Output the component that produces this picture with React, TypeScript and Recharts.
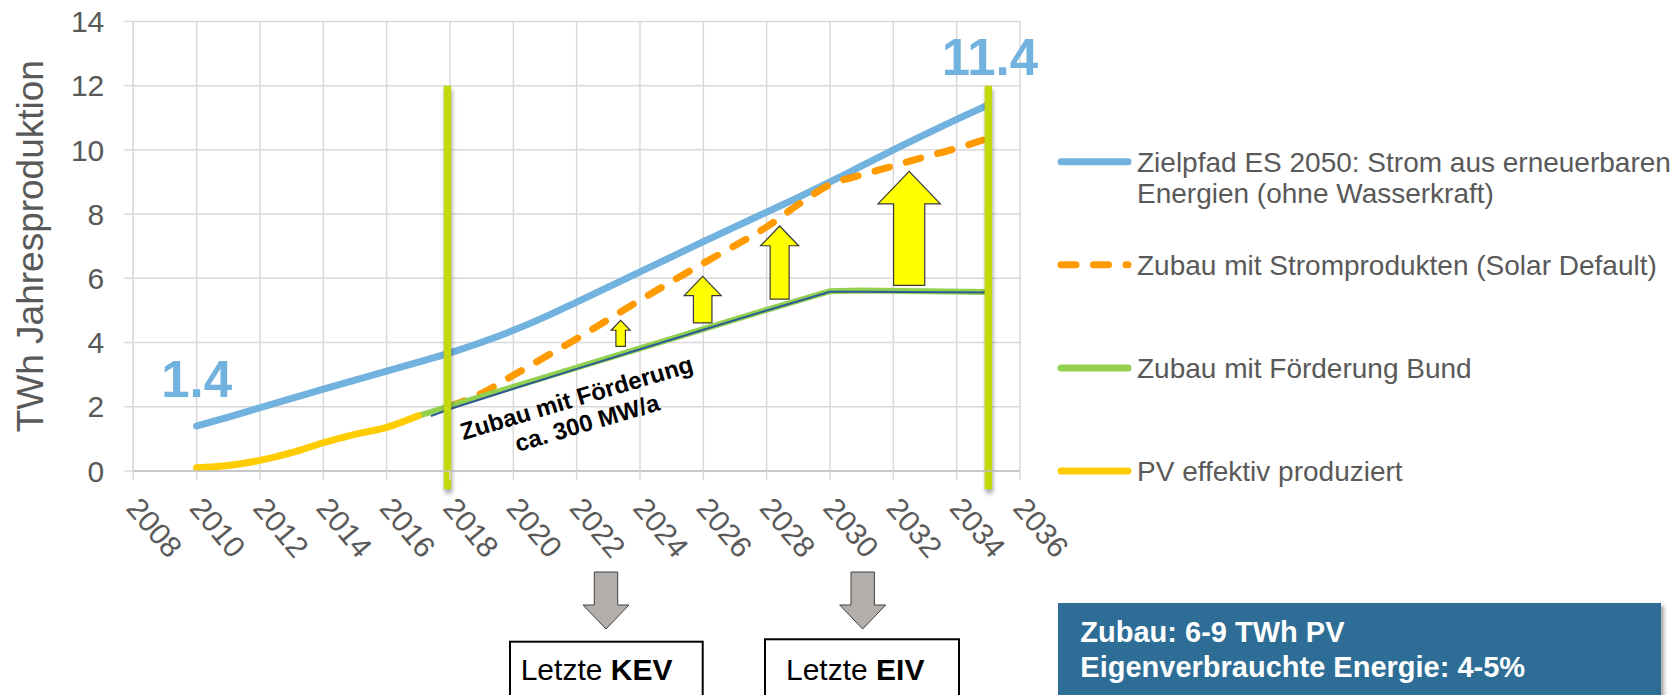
import React from 'react';
import {
  LineChart,
  Line,
  XAxis,
  YAxis,
  CartesianGrid,
  Legend,
  ReferenceLine,
  ReferenceArea,
  ReferenceDot
} from 'recharts';

// axis ticks
const YEAR_TICKS = [2008, 2010, 2012, 2014, 2016, 2018, 2020, 2022, 2024, 2026, 2028, 2030, 2032, 2034, 2036];
const VALUE_TICKS = [0, 2, 4, 6, 8, 10, 12, 14];

// Zielpfad ES 2050
const ZIEL_YEARS = [2010, 2011, 2012, 2013, 2014, 2015, 2016, 2017, 2018, 2019, 2020, 2021, 2022, 2023, 2024, 2025, 2026, 2027, 2028, 2029, 2030, 2031, 2032, 2033, 2034, 2035];
const ZIEL = [1.4, 1.68, 1.97, 2.26, 2.55, 2.83, 3.11, 3.39, 3.68, 4.01, 4.38, 4.8, 5.26, 5.73, 6.2, 6.67, 7.14, 7.6, 8.06, 8.52, 9.0, 9.5, 10.0, 10.48, 10.95, 11.4];

// Zubau mit Stromprodukten (Solar Default)
const STROM_YEARS = [2018, 2019, 2020, 2021, 2022, 2023, 2024, 2025, 2026, 2027, 2028, 2029, 2030, 2031, 2032, 2033, 2034, 2035];
const STROM = [2.02, 2.42, 2.98, 3.55, 4.12, 4.72, 5.32, 5.9, 6.47, 7.02, 7.6, 8.3, 8.92, 9.22, 9.5, 9.78, 10.05, 10.36];

// Zubau mit Förderung Bund
const BUND_YEARS = [2017, 2018, 2020, 2022, 2024, 2026, 2028, 2030, 2031, 2035];
const BUND = [1.72, 2.02, 2.62, 3.22, 3.82, 4.42, 5.02, 5.6, 5.62, 5.57];

// thin trace drawn on top of the Bund line
const TRACE_YEARS = [2017.4, 2018, 2020, 2022, 2024, 2026, 2028, 2030, 2031, 2035];
const TRACE = [1.71, 1.93, 2.56, 3.18, 3.79, 4.4, 5.0, 5.58, 5.58, 5.56];

// PV effektiv produziert
const PV_YEARS = [2010, 2011, 2012, 2013, 2014, 2015, 2016, 2017];
const PV = [0.1, 0.17, 0.33, 0.57, 0.88, 1.14, 1.36, 1.72];

// vertical milestone bars
const MILESTONE_YEARS = [2017.92, 2035];
const MILESTONE_FROM = -0.57;
const MILESTONE_TO = 12;

// yellow gap arrows (year, base, tip, head width in years)
const GAP_YEARS = [2023.39, 2025.98, 2028.41, 2032.5];
const GAP_FROM = [3.88, 4.61, 5.35, 5.78];
const GAP_TO = [4.69, 6.06, 7.63, 9.33];
const GAP_SPAN = [0.6, 1.17, 1.2, 1.97];

// big value labels
const VALUE_LABELS = ['1.4', '11.4'];
const VALUE_LABEL_YEARS = [2010, 2035.05];
const VALUE_LABEL_AT = [2.31, 12.34];

const FONT = '"Liberation Sans", Arial, sans-serif';
const GREY = '#595959';
const BLUE = '#72B2DE';
const ORANGE = '#FF9A00';
const GREEN = '#92D050';
const YELLOW = '#FFCC00';

const NAMES = {
  ziel: 'Zielpfad ES 2050: Strom aus erneuerbaren Energien (ohne Wasserkraft)',
  strom: 'Zubau mit Stromprodukten (Solar Default)',
  bund: 'Zubau mit Förderung Bund',
  pv: 'PV effektiv produziert'
};
const LEGEND_ORDER = [NAMES.ziel, NAMES.strom, NAMES.bund, NAMES.pv];

const toPoints = (years: number[], values: number[]) =>
  years.map((year, i) => ({ year, value: values[i] }));

const YearTick = ({ x, y, payload }: any) => (
  <g transform={`translate(${x + 8},${y}) rotate(50)`}>
    <text x={0} y={0} dy="0.71em" textAnchor="start" fontSize={30} fill={GREY} fontFamily={FONT}>
      {payload.value}
    </text>
  </g>
);

const UpArrow = (p: any) => {
  const { x, y, width, height } = p;
  const cx = x + width / 2;
  const headH = width * 0.52;
  const half = width * 0.25;
  const pts = [
    [cx - half, y + height],
    [cx - half, y + headH],
    [x, y + headH],
    [cx, y],
    [x + width, y + headH],
    [cx + half, y + headH],
    [cx + half, y + height]
  ].map(q => q.join(',')).join(' ');
  return <polygon points={pts} fill="#FFFF00" stroke="#3A3A3A" strokeWidth={1.2} />;
};

const MilestoneBar = (p: any) => (
  <line
    x1={p.x1} y1={p.y1} x2={p.x2} y2={p.y2}
    stroke="#C4D80E" strokeWidth={7.5}
    style={{ filter: 'drop-shadow(1px 4px 2px rgba(0,0,0,0.35))' }}
  />
);

const renderLegend = (props: any) => {
  const items = (props.payload || [])
    .filter((it: any) => LEGEND_ORDER.includes(it.value))
    .sort((a: any, b: any) => LEGEND_ORDER.indexOf(a.value) - LEGEND_ORDER.indexOf(b.value));
  return (
    <svg width={627} height={380} style={{ overflow: 'visible' }}>
      {items.map((it: any, i: number) => {
        const cy = 41.7 + i * 103.1;
        const dash = it.payload && it.payload.strokeDasharray;
        // wrap long names onto two lines
        const words = String(it.value).split(' ');
        const lines: string[] = [];
        let cur = '';
        words.forEach(w => {
          const next = cur ? cur + ' ' + w : w;
          if (next.length > 41 && cur) {
            lines.push(cur);
            cur = w;
          } else cur = next;
        });
        lines.push(cur);
        return (
          <g key={it.value}>
            <line x1={14} y1={cy} x2={81} y2={cy} stroke={it.color} strokeWidth={7} strokeLinecap="round" strokeDasharray={dash} />
            <text x={90} y={cy + 10} fontSize={28} fill={GREY} fontFamily={FONT}>
              {lines.map((ln, k) => (
                <tspan key={k} x={90} dy={k === 0 ? 0 : 31.6}>{ln}</tspan>
              ))}
            </text>
          </g>
        );
      })}
    </svg>
  );
};

const YTitle = (props: any) => {
  const vb = props.viewBox || { x: 0, y: 21, width: 133, height: 450 };
  const cx = vb.x + 43;
  const cy = vb.y + vb.height / 2;
  return (
    <text x={cx} y={cy} transform={`rotate(-90 ${cx} ${cy})`} textAnchor="middle" fontSize={37} fill={GREY} fontFamily={FONT}>
      TWh Jahresproduktion
    </text>
  );
};

const GreyArrow = ({ cx }: { cx: number }) => (
  <polygon
    points={[
      [cx - 11.7, 572], [cx - 11.7, 605], [cx - 23, 605], [cx, 629],
      [cx + 23, 605], [cx + 11.7, 605], [cx + 11.7, 572]
    ].map(q => q.join(',')).join(' ')}
    fill="#B3AEAA" stroke="#404040" strokeWidth={1}
  />
);

export default function App() {
  return (
    <div style={{ position: 'absolute', left: 0, top: 0, width: 1677, height: 695, background: '#fff', fontFamily: FONT }}>
      <LineChart width={1677} height={695} margin={{ top: 21.4, right: 657, bottom: 164, left: 0 }}>
        <CartesianGrid stroke="#D9D9D9" strokeWidth={1.5} />
        <XAxis
          dataKey="year"
          type="number"
          domain={[2008, 2036]}
          ticks={YEAR_TICKS}
          interval={0}
          allowDataOverflow
          height={60}
          tickSize={9}
          tickMargin={15}
          axisLine={{ stroke: '#BFBFBF', strokeWidth: 1.5 }}
          tickLine={{ stroke: '#D9D9D9', strokeWidth: 1.5 }}
          tick={<YearTick />}
        />
        <YAxis
          type="number"
          domain={[0, 14]}
          ticks={VALUE_TICKS}
          interval={0}
          width={133.3}
          tickSize={9}
          tickMargin={20}
          axisLine={{ stroke: '#D9D9D9', strokeWidth: 1.5 }}
          tickLine={{ stroke: '#D9D9D9', strokeWidth: 1.5 }}
          tick={{ fontSize: 30, fill: GREY, fontFamily: FONT }}
          label={(p: any) => <YTitle {...p} />}
        />
        <Legend
          layout="horizontal"
          align="center"
          verticalAlign="middle"
          content={renderLegend}
          wrapperStyle={{ position: 'absolute', left: 1047, top: 120, width: 627, height: 380 }}
        />

        <Line data={toPoints(ZIEL_YEARS, ZIEL)} dataKey="value" name={NAMES.ziel} type="monotone" stroke={BLUE} strokeWidth={7} strokeLinecap="round" dot={false} activeDot={false} isAnimationActive={false} />
        <Line data={toPoints(STROM_YEARS, STROM)} dataKey="value" name={NAMES.strom} type="monotone" stroke={ORANGE} strokeWidth={7} strokeLinecap="round" strokeDasharray="15 17.5" dot={false} activeDot={false} isAnimationActive={false} />
        <Line data={toPoints(BUND_YEARS, BUND)} dataKey="value" name={NAMES.bund} type="linear" stroke={GREEN} strokeWidth={6} strokeLinecap="round" dot={false} activeDot={false} isAnimationActive={false} />
        <Line data={toPoints(TRACE_YEARS, TRACE)} dataKey="value" name="trace" legendType="none" type="linear" stroke="#2E5A97" strokeWidth={2} dot={false} activeDot={false} isAnimationActive={false} />
        <Line data={toPoints(PV_YEARS, PV)} dataKey="value" name={NAMES.pv} type="monotone" stroke={YELLOW} strokeWidth={7} strokeLinecap="round" dot={false} activeDot={false} isAnimationActive={false} />

        {GAP_YEARS.map((yr, i) => (
          <ReferenceArea
            key={'gap' + i}
            x1={yr - GAP_SPAN[i] / 2}
            x2={yr + GAP_SPAN[i] / 2}
            y1={GAP_FROM[i]}
            y2={GAP_TO[i]}
            ifOverflow="visible"
            shape={UpArrow}
          />
        ))}

        {MILESTONE_YEARS.map((yr, i) => (
          <ReferenceLine
            key={'ms' + i}
            segment={[{ x: yr, y: MILESTONE_FROM }, { x: yr, y: MILESTONE_TO }]}
            ifOverflow="visible"
            shape={MilestoneBar}
          />
        ))}

        {VALUE_LABELS.map((txt, i) => (
          <ReferenceDot
            key={'vl' + i}
            x={VALUE_LABEL_YEARS[i]}
            y={VALUE_LABEL_AT[i]}
            ifOverflow="visible"
            shape={(p: any) => (
              <text x={p.cx} y={p.cy} textAnchor="middle" fontSize={51} fontWeight="bold" fill={BLUE} fontFamily={FONT}>
                {txt}
              </text>
            )}
          />
        ))}

        <ReferenceDot
          x={2022.07}
          y={2.03}
          ifOverflow="visible"
          shape={(p: any) => (
            <text x={p.cx} y={p.cy} transform={`rotate(-16.6 ${p.cx} ${p.cy})`} textAnchor="middle" fontSize={24} fontWeight="bold" fill="#000" fontFamily={FONT}>
              Zubau mit Förderung
            </text>
          )}
        />
        <ReferenceDot
          x={2022.4}
          y={1.25}
          ifOverflow="visible"
          shape={(p: any) => (
            <text x={p.cx} y={p.cy} transform={`rotate(-16.4 ${p.cx} ${p.cy})`} textAnchor="middle" fontSize={24} fontWeight="bold" fill="#000" fontFamily={FONT}>
              ca. 300 MW/a
            </text>
          )}
        />
      </LineChart>

      <svg width={1677} height={695} style={{ position: 'absolute', left: 0, top: 0, pointerEvents: 'none' }}>
        <GreyArrow cx={606} />
        <GreyArrow cx={862.7} />
        <rect x={510} y={641.7} width={192.7} height={80} fill="#fff" stroke="#000" strokeWidth={2} />
        <rect x={765} y={639.3} width={194} height={80} fill="#fff" stroke="#000" strokeWidth={2} />
        <text x={520.7} y={680} fontSize={30} fill="#000" fontFamily={FONT}>
          Letzte <tspan fontWeight="bold">KEV</tspan>
        </text>
        <text x={786} y={680} fontSize={30} fill="#000" fontFamily={FONT}>
          Letzte <tspan fontWeight="bold">EIV</tspan>
        </text>
      </svg>

      <div
        style={{
          position: 'absolute',
          left: 1058.3,
          top: 603.3,
          width: 602.7,
          height: 120,
          background: '#2E6E96',
          boxShadow: '3px 3px 4px rgba(0,0,0,0.35)',
          color: '#fff',
          fontWeight: 'bold',
          fontSize: 29,
          lineHeight: '35px',
          fontFamily: FONT,
          padding: '12px 0 0 22px',
          boxSizing: 'border-box'
        }}
      >
        <div>Zubau: 6-9 TWh PV</div>
        <div>Eigenverbrauchte Energie: 4-5%</div>
      </div>
    </div>
  );
}
